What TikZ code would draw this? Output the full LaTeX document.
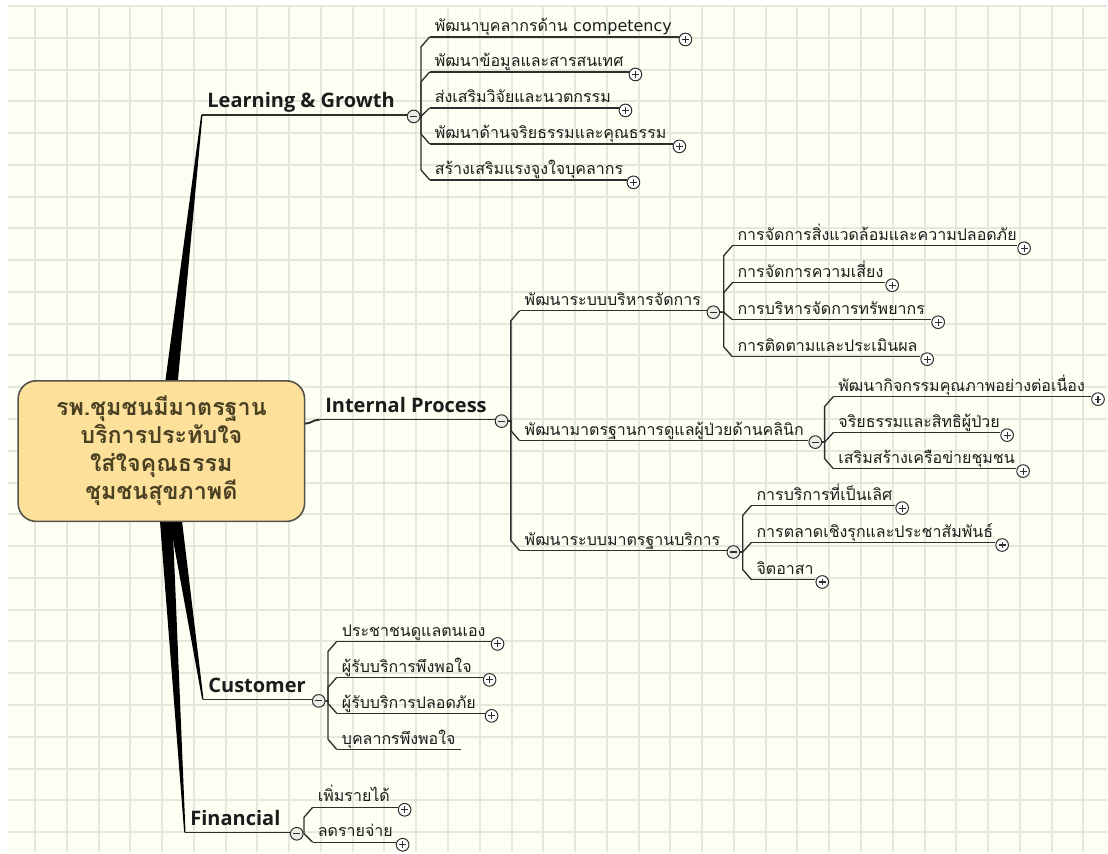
\documentclass[tikz,border=0pt]{standalone}
\usepackage{fontspec}
\setmainfont{Open Sans}
\newfontfamily\thaifont[Script=Thai]{Loma}
\newfontfamily\latinfont{DejaVu Sans}
\usetikzlibrary{calc}
\definecolor{paper}{HTML}{FEFEF2}
\definecolor{gridln}{HTML}{E2EADE}
\definecolor{ink}{HTML}{1C1C1C}
\definecolor{rule}{HTML}{2E2E2E}
\definecolor{corefill}{HTML}{FDE19B}
\definecolor{coredraw}{HTML}{55524A}
\definecolor{coretext}{HTML}{4A4022}
\definecolor{knobfill}{HTML}{ECECE6}
\tikzset{
  x=0.75pt, y=-0.75pt,
  gridline/.style={draw=gridln, line width=1.5pt},
  core/.style={draw=coredraw, line width=1.2pt, fill=corefill, rounded corners=13.5pt,
    minimum width=215pt, minimum height=105.5pt, align=center, text=coretext,
    font=\thaifont\bfseries\fontsize{17.5}{21}\selectfont},
  branch/.style={anchor=south west, inner xsep=4pt, inner ysep=5.2pt, text depth=0pt,
    text=ink, font=\bfseries\fontsize{15}{18}\selectfont},
  leaf/.style={anchor=south west, inner xsep=3.7pt, inner ysep=3.8pt, text depth=0pt,
    text=ink, font=\thaifont\fontsize{12}{14}\selectfont},
  uline/.style={draw=rule, line width=1pt},
  trunk/.style={fill=black},
  knob/.style={circle, draw=rule, fill=white, line width=0.75pt, minimum size=9.5pt, inner sep=0pt},
  open/.style={knob, fill=knobfill, path picture={
    \draw[rule, line width=0.8pt] ([xshift=-2.6pt]path picture bounding box.center) -- ([xshift=2.6pt]path picture bounding box.center);}},
  shut/.style={knob, path picture={
    \draw[rule, line width=0.8pt] ([xshift=-2.6pt]path picture bounding box.center) -- ([xshift=2.6pt]path picture bounding box.center)
      ([yshift=-2.6pt]path picture bounding box.center) -- ([yshift=2.6pt]path picture bounding box.center);}},
  elbow/.style={to path={let \p1=(\tikztostart), \p2=(\tikztotarget),
    \n1={sign(\y2-\y1)*min(7.5,abs(\y2-\y1))} in
    (\p1) -- (\x2-6.5pt,\y1) -- (\x2-6.5pt,\y2-\n1*1pt) -- (\p2)}},
}
\begin{document}
\begin{tikzpicture}
% --- paper and grid
\fill[white] (0,0) rectangle (1108,853);
\fill[paper] (8,6) rectangle (1108,853);
\foreach \i in {0,...,33} {\draw[gridline] ({35+31.8*\i},6) -- ({35+31.8*\i},853);}
\foreach \j in {0,...,26} {\draw[gridline] (8,{6+31.8*\j}) -- (1108,{6+31.8*\j});}
\useasboundingbox (0,0) rectangle (1108,853);
% --- four perspectives (main branches)
\node[branch] (lg) at (202,115) {Learning \& Growth};
\node[branch] (ip) at (320,420) {Internal Process};
\node[branch] (cu) at (203,700) {Customer};
\node[branch] (fi) at (185,833) {Financial};
\node[open] (lg-m) at (414,116.5) {};
\node[open] (ip-m) at (502,421.5) {};
\node[open] (cu-m) at (319,701.5) {};
\node[open] (fi-m) at (297,834.5) {};
\foreach \b in {lg,ip,cu,fi} {\draw[uline] (\b.south west) -- (\b.south west -| \b-m.west);}
% --- tapered trunks, hidden under the centre box
\coordinate (lg-r) at (171,388);
\coordinate (cu-r) at (175,515);
\coordinate (fi-r) at (166,515);
\foreach \b in {lg,cu,fi} {\fill[trunk] ([xshift=-4.8pt]\b-r) -- ([xshift=4.8pt]\b-r) -- ([xshift=0.5pt]\b.south west) -- ([xshift=-0.5pt]\b.south west) -- cycle;}
% --- centre
\node[core] (ctr) at (161.5,451.5) {รพ.ชุมชนมีมาตรฐาน\\บริการประทับใจ\\ใส่ใจคุณธรรม\\ชุมชนสุขภาพดี};
\coordinate (ip-r) at (305,424);
\draw[uline, line width=1.4pt] (ip-r) .. controls (312,424) and (313,420) .. (ip.south west);
% --- Learning & Growth
\node[leaf] (lg1) at (430,37) {พัฒนาบุคลากรด้าน {\latinfont competency}};
\node[leaf] (lg2) at (430,72) {พัฒนาข้อมูลและสารสนเทศ};
\node[leaf] (lg3) at (430,108) {ส่งเสริมวิจัยและนวตกรรม};
\node[leaf] (lg4) at (430,144) {พัฒนาด้านจริยธรรมและคุณธรรม};
\node[leaf] (lg5) at (430,180) {สร้างเสริมแรงจูงใจบุคลากร};
\node[shut] (lg1-k) at (686,39.5) {};
\node[shut] (lg2-k) at (636,74.5) {};
\node[shut] (lg3-k) at (626,110.5) {};
\node[shut] (lg4-k) at (680,146.5) {};
\node[shut] (lg5-k) at (634,182.5) {};
\foreach \c in {lg1,lg2,lg3,lg4,lg5} {\draw[uline] (lg-m.east) to[elbow] (\c.south west);}
% --- Internal Process
\node[leaf] (ipa) at (520,311) {พัฒนาระบบบริหารจัดการ};
\node[leaf] (ipb) at (520,441) {พัฒนามาตรฐานการดูแลผู้ป่วยด้านคลินิก};
\node[leaf] (ipc) at (520,551) {พัฒนาระบบมาตรฐานบริการ};
\node[open] (ipa-m) at (714,312.5) {};
\node[open] (ipb-m) at (816,442.5) {};
\node[open] (ipc-m) at (734,552.5) {};
\foreach \c in {ipa,ipb,ipc} {
  \draw[uline] (ip-m.east) to[elbow] (\c.south west);
  \draw[uline] (\c.south west) -- (\c.south west -| \c-m.west);
}
\node[leaf] (a1) at (733,246) {การจัดการสิ่งแวดล้อมและความปลอดภัย};
\node[leaf] (a2) at (733,283) {การจัดการความเสี่ยง};
\node[leaf] (a3) at (733,320) {การบริหารจัดการทรัพยากร};
\node[leaf] (a4) at (733,357) {การติดตามและประเมินผล};
\node[shut] (a1-k) at (1025,248.5) {};
\node[shut] (a2-k) at (893,285.5) {};
\node[shut] (a3-k) at (939,322.5) {};
\node[shut] (a4-k) at (928,359.5) {};
\foreach \c in {a1,a2,a3,a4} {\draw[uline] (ipa-m.east) to[elbow] (\c.south west);}
\node[leaf] (b1) at (834,397) {พัฒนากิจกรรมคุณภาพอย่างต่อเนื่อง};
\node[leaf] (b2) at (834,433) {จริยธรรมและสิทธิผู้ป่วย};
\node[leaf] (b3) at (834,469) {เสริมสร้างเครือข่ายชุมชน};
\node[shut] (b1-k) at (1099,399.5) {};
\node[shut] (b2-k) at (1008,435.5) {};
\node[shut] (b3-k) at (1024,471.5) {};
\foreach \c in {b1,b2,b3} {\draw[uline] (ipb-m.east) to[elbow] (\c.south west);}
\node[leaf] (c1) at (752,506) {การบริการที่เป็นเลิศ};
\node[leaf] (c2) at (752,543) {การตลาดเชิงรุกและประชาสัมพันธ์};
\node[leaf] (c3) at (752,580) {จิตอาสา};
\node[shut] (c1-k) at (903,508.5) {};
\node[shut] (c2-k) at (1003,545.5) {};
\node[shut] (c3-k) at (823,582.5) {};
\foreach \c in {c1,c2,c3} {\draw[uline] (ipc-m.east) to[elbow] (\c.south west);}
% --- Customer
\node[leaf] (cu1) at (337,642) {ประชาชนดูแลตนเอง};
\node[leaf] (cu2) at (337,678) {ผู้รับบริการพึงพอใจ};
\node[leaf] (cu3) at (337,714) {ผู้รับบริการปลอดภัย};
\node[leaf] (cu4) at (337,750) {บุคลากรพึงพอใจ};
\node[shut] (cu1-k) at (498,644.5) {};
\node[shut] (cu2-k) at (490,680.5) {};
\node[shut] (cu3-k) at (492,716.5) {};
\foreach \c in {cu1,cu2,cu3,cu4} {\draw[uline] (cu-m.east) to[elbow] (\c.south west);}
\draw[uline] (cu4.south west) -- (cu4.south east);
% --- Financial
\node[leaf] (fi1) at (313,808) {เพิ่มรายได้};
\node[leaf] (fi2) at (313,843) {ลดรายจ่าย};
\node[shut] (fi1-k) at (405,810.5) {};
\node[shut] (fi2-k) at (403,845.5) {};
\foreach \c in {fi1,fi2} {\draw[uline] (fi-m.east) to[elbow] (\c.south west);}
% --- underlines to the collapsed knobs
\foreach \c in {lg1,lg2,lg3,lg4,lg5,a1,a2,a3,a4,b1,b2,b3,c1,c2,c3,cu1,cu2,cu3,fi1,fi2} {\draw[uline] (\c.south west) -- (\c.south west -| \c-k.west);}
\end{tikzpicture}
\end{document}
